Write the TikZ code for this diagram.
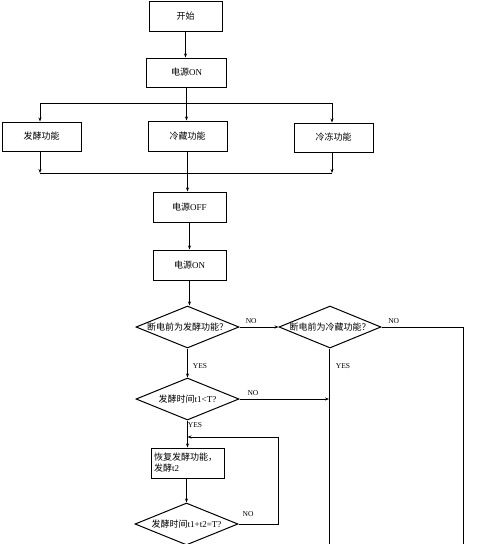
\documentclass[tikz,border=0pt]{standalone}
\usepackage{fontspec}
\setmainfont{Liberation Serif}
\newfontfamily\cjk{Noto Sans CJK SC}
\usetikzlibrary{shapes.geometric,arrows.meta}
\begin{document}
\begin{tikzpicture}[x=1pt,y=-1pt,
  box/.style={draw,line width=1pt,inner sep=0pt,minimum width=73pt,minimum height=30pt,font=\fontsize{9}{11}\selectfont},
  dia/.style={draw,diamond,line width=1pt,inner sep=0pt,shape aspect=2.45,minimum width=103pt,minimum height=42pt,font=\fontsize{9}{11}\selectfont},
  arr/.style={-{Stealth[length=4pt,width=3pt]},line width=0.8pt},
  ln/.style={line width=0.8pt},
  lab/.style={font=\fontsize{7.5}{9}\selectfont,inner sep=0pt}]
\useasboundingbox (0,0) rectangle (500,544);

\node[box] (start) at (185.5,16) {\cjk 开始};
\node[box,minimum width=80pt,minimum height=29pt] (on1) at (186.5,72.5) {{\cjk 电源}ON};
\node[box,minimum width=79pt,minimum height=29pt] (fer) at (41.5,136.5) {\cjk 发酵功能};
\node[box,minimum width=79pt] (ref) at (187.5,136) {\cjk 冷藏功能};
\node[box,minimum width=79pt,minimum height=29pt] (frz) at (333.5,137.5) {\cjk 冷冻功能};
\node[box] (off) at (189.5,207) {{\cjk 电源}OFF};
\node[box] (on2) at (189.5,265) {{\cjk 电源}ON};
\node[dia] (d1) at (187.5,327) {\cjk 断电前为发酵功能？};
\node[dia,minimum width=102pt] (d2) at (330,327) {\cjk 断电前为冷藏功能？};
\node[dia] (d3) at (187.5,399) {{\cjk 发酵时间}t1<T?};
\node[box,text width=67pt,inner xsep=3pt,align=left] (res) at (187.5,463) {\cjk 恢复发酵功能，\\发酵{\rmfamily t2}};
\node[dia] (d4) at (186.5,524) {{\cjk 发酵时间}t1+t2=T?};

\coordinate (jl) at (40,103);
\coordinate (jr) at (332,103);
\coordinate (kl) at (40,173);
\coordinate (kr) at (332,173);
\coordinate (e1) at (463,544);
\coordinate (e2) at (329,544);
\coordinate (lp) at (278,437);

\draw[arr] (start.south) -- (on1.north -| start.south);
\draw[ln] (jl) -- (jr);
\draw[arr] (on1.south) -- (ref.north -| on1.south);
\draw[arr] (jl) -- (jl |- fer.north);
\draw[arr] (jr) -- (jr |- frz.north);
\draw[arr] (jl |- fer.south) -- (kl);
\draw[arr] (jr |- frz.south) -- (kr);
\draw[ln] (kl) -- (kr);
\draw[arr] (ref.south) -- (ref.south |- off.north);
\draw[arr] (off.south) -- (on2.north);
\draw[arr] (on2.south) -- (on2.south |- d1.north);
\draw[arr] (d1.east) -- (d2.west) node[lab,pos=0.3,above=3pt] {NO};
\draw[ln] (d2.east) -- (e1 |- d2.east) node[lab,pos=0.15,above=3pt] {NO} -- (e1);
\draw[ln] (d2.south -| e2) -- (e2);
\node[lab] at (343,366) {YES};
\draw[arr] (d1.south) -- (d3.north);
\node[lab] at (200,366) {YES};
\draw[arr] (d3.east) -- (d3.east -| e2) node[lab,pos=0.15,above=3pt] {NO};
\draw[arr] (d3.south) -- (res.north);
\node[lab] at (195,425) {YES};
\draw[arr] (res.south -| d4.north) -- (d4.north);
\draw[arr] (d4.east) -| (lp) -- (lp -| res.north);
\node[lab] at (248,514) {NO};
\end{tikzpicture}
\end{document}
